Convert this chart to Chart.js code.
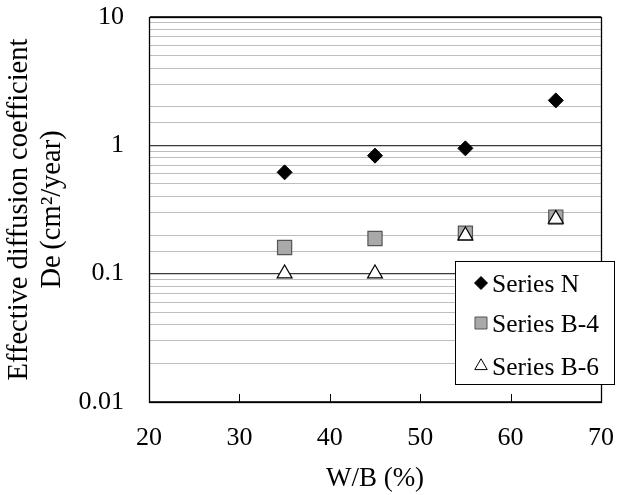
<!DOCTYPE html>
<html>
<head>
<meta charset="utf-8">
<script src="https://cdn.jsdelivr.net/npm/chart.js@4/dist/chart.umd.min.js"></script>
<style>
  html, body { margin: 0; padding: 0; background: #fff; }
  #wrap { width: 617px; height: 495px; position: relative; }
</style>
</head>
<body>
<div id="wrap"><canvas id="c" width="617" height="495"></canvas></div>
<script>
// ---- data ----
const wb = [35, 45, 55, 65];
const seriesN = [0.616, 0.831, 0.947, 2.24];
const seriesB4 = [0.160, 0.188, 0.207, 0.276];
const seriesB6 = [0.100, 0.100, 0.198, 0.267];
const seriesNames = ['Series N', 'Series B-4', 'Series B-6'];
const xTicks = [20, 30, 40, 50, 60, 70];
const yMajorTicks = [0.01, 0.1, 1, 10];
const xTitle = 'W/B (%)';
const yTitle = ['Effective diffusion coefficient', 'De\u2009(cm\u00B2/year)'];

const FONT = "'Liberation Serif', 'Times New Roman', serif";

function pts(ys) { return wb.map((x, i) => ({ x: x, y: ys[i] })); }
function isMajor(v) {
  const l = Math.log10(v);
  return Math.abs(l - Math.round(l)) < 1e-6;
}

const styles = [
  { pointStyle: 'rectRot', radius: 7.5, bg: '#000000', border: '#000000', bw: 1, order: 0 },
  { pointStyle: 'rect', radius: 10, bg: '#a9a9a9', border: '#555555', bw: 1.2, order: 2 },
  { pointStyle: 'triangle', radius: 8.6, bg: '#ffffff', border: '#000000', bw: 1.2, order: 1 }
];
const allData = [seriesN, seriesB4, seriesB6];

const datasets = allData.map((d, i) => ({
  label: seriesNames[i],
  data: pts(d),
  showLine: false,
  pointStyle: styles[i].pointStyle,
  pointRadius: styles[i].radius,
  pointHoverRadius: styles[i].radius,
  pointBackgroundColor: styles[i].bg,
  pointBorderColor: styles[i].border,
  pointBorderWidth: styles[i].bw,
  order: styles[i].order
}));

const framePlugin = {
  id: 'frame',
  afterDatasetsDraw(chart) {
    const { ctx, chartArea: a } = chart;
    const xs = chart.scales.x;
    ctx.save();
    ctx.strokeStyle = '#000';
    ctx.lineWidth = 1;
    // inside tick marks on x axis
    xTicks.forEach(v => {
      if (v === xTicks[0] || v === xTicks[xTicks.length - 1]) return;
      const px = Math.round(xs.getPixelForValue(v)) + 0.5;
      ctx.beginPath();
      ctx.moveTo(px, a.bottom);
      ctx.lineTo(px, a.bottom - 8);
      ctx.stroke();
    });
    ctx.lineWidth = 1.3;
    ctx.strokeRect(Math.round(a.left) + 0.5, Math.round(a.top) + 0.5,
                   Math.round(a.right - a.left), Math.round(a.bottom - a.top));
    ctx.restore();
  },
  afterDraw(chart) {
    // legend box inside the plot
    const { ctx } = chart;
    const bx = 455, by = 261, bw = 160, bh = 124;
    ctx.save();
    ctx.fillStyle = '#fff';
    ctx.fillRect(bx, by, bw, bh);
    ctx.strokeStyle = '#000';
    ctx.lineWidth = 1;
    ctx.strokeRect(bx + 0.5, by + 0.5, bw - 1, bh - 1);
    const rows = [283, 323, 366];
    const lr = [6.5, 8.5, 7.2];
    seriesNames.forEach((name, i) => {
      ctx.fillStyle = styles[i].bg;
      ctx.strokeStyle = styles[i].border;
      ctx.lineWidth = 1;
      Chart.helpers.drawPoint(ctx, { pointStyle: styles[i].pointStyle, radius: lr[i], borderWidth: 1, rotation: 0 }, 481, rows[i]);
      ctx.fillStyle = '#000';
      ctx.font = '25.5px ' + FONT;
      ctx.textBaseline = 'middle';
      ctx.textAlign = 'left';
      ctx.fillText(name, 492, rows[i] + 2);
    });
    ctx.restore();
  }
};

new Chart(document.getElementById('c'), {
  type: 'scatter',
  data: { datasets: datasets },
  options: {
    responsive: false,
    animation: false,
    devicePixelRatio: 1,
    layout: { padding: { top: 17, right: 16, left: 0, bottom: 0 } },
    plugins: { legend: { display: false }, tooltip: { enabled: false } },
    scales: {
      x: {
        type: 'linear',
        min: 20, max: 70,
        afterBuildTicks(scale) { scale.ticks = xTicks.map(v => ({ value: v })); },
        afterFit(scale) { scale.height = 93; scale.paddingLeft = 0; scale.paddingRight = 0; },
        grid: { display: false, drawTicks: false },
        border: { display: true, color: '#000', width: 1 },
        ticks: {
          font: { family: FONT, size: 26 },
          color: '#000',
          padding: 21,
          maxRotation: 0
        },
        title: {
          display: true, text: xTitle,
          font: { family: FONT, size: 27 },
          color: '#000',
          padding: { top: 0, bottom: 0 }
        }
      },
      y: {
        type: 'logarithmic',
        min: 0.01, max: 10,
        afterFit(scale) { scale.width = 149; scale.paddingTop = 0; scale.paddingBottom = 0; },
        grid: {
          drawTicks: false,
          color(ctx) { return ctx.tick && isMajor(ctx.tick.value) ? '#3a3a3a' : '#bdbdbd'; },
          lineWidth(ctx) { return ctx.tick && isMajor(ctx.tick.value) ? 1.3 : 1; }
        },
        border: { display: true, color: '#000', width: 1 },
        ticks: {
          autoSkip: false,
          font: { family: FONT, size: 26 },
          color: '#000',
          padding: 25,
          callback(v) {
            return yMajorTicks.some(t => Math.abs(t - v) / t < 1e-6) ? String(Number(v.toPrecision(3))) : '';
          }
        },
        title: {
          display: true, text: yTitle,
          font: { family: FONT, size: 28.5, lineHeight: 1.15 },
          color: '#000',
          padding: { top: 3, bottom: 0 }
        }
      }
    }
  },
  plugins: [framePlugin]
});
</script>
</body>
</html>
